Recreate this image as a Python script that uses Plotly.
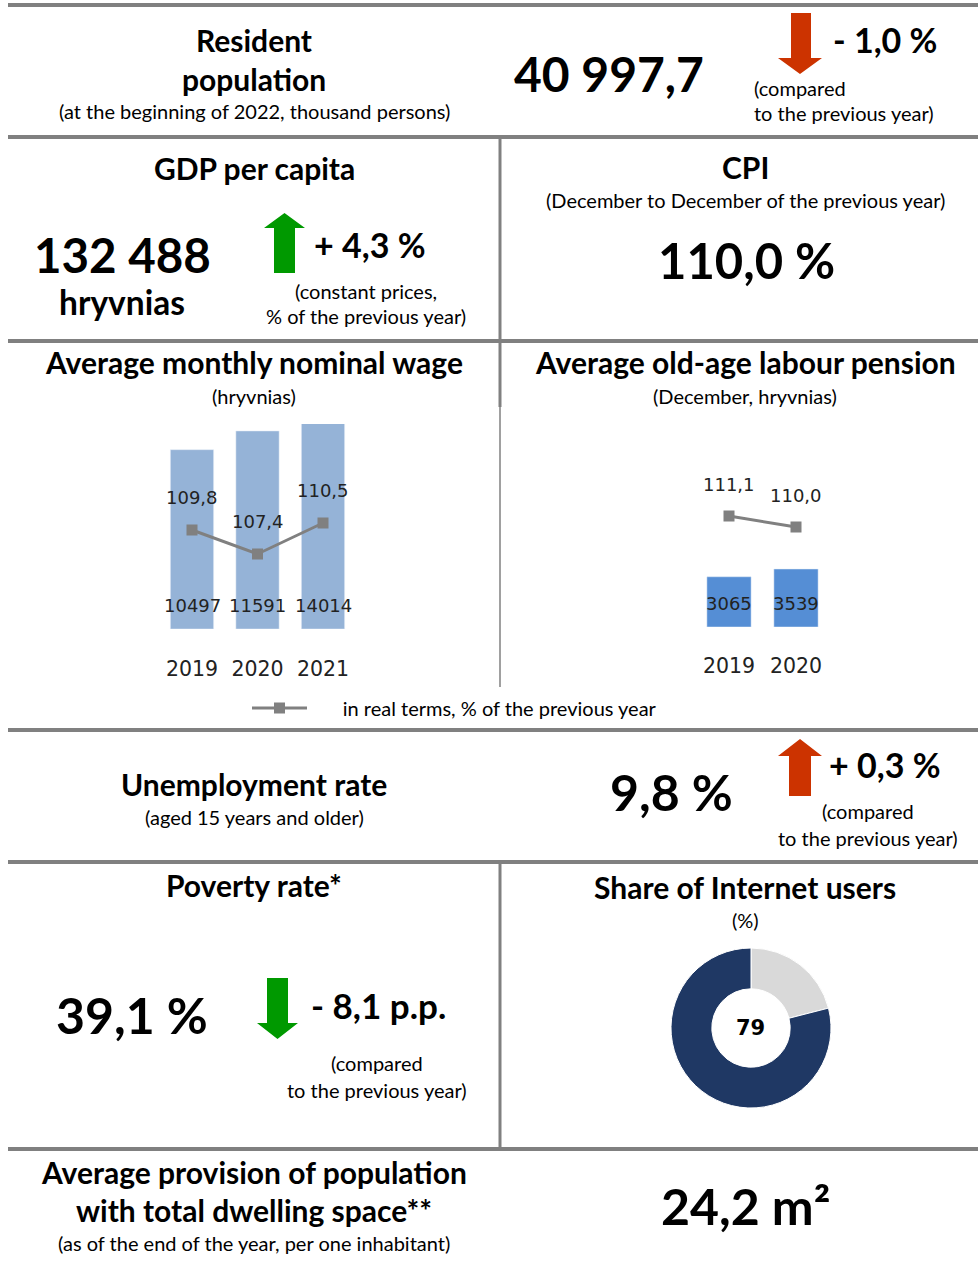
import plotly.graph_objects as go

W, H = 978, 1262

# ---------------- data ----------------
wage_years = ["2019", "2020", "2021"]
wage_values = [10497, 11591, 14014]
wage_real = [109.8, 107.4, 110.5]
wage_real_labels = ["109,8", "107,4", "110,5"]

pension_years = ["2019", "2020"]
pension_values = [3065, 3539]
pension_real = [111.1, 110.0]
pension_real_labels = ["111,1", "110,0"]

internet_labels = ["Non-users", "Users"]
internet_values = [21, 79]
internet_center = "79"

FONT = "Lato"
NUMFONT = "DejaVu Sans"
GRAY = "#808080"
HEAD = 30      # heading font size
SMALL = 20     # small note font size
BIG = 49       # big number size
MID = 34       # change figures size


def px(x):
    return x / W


def py(y):
    return 1 - y / H


fig = go.Figure()

# ---------------- wage chart ----------------
fig.add_trace(go.Bar(x=wage_years, y=wage_values, marker_color="#95B3D7",
                     xaxis="x", yaxis="y", showlegend=False, hoverinfo="skip"))
fig.add_trace(go.Scatter(x=wage_years, y=wage_real, mode="lines+markers",
                         line=dict(color=GRAY, width=3),
                         marker=dict(symbol="square", size=11, color=GRAY),
                         xaxis="x", yaxis="y2", showlegend=True,
                         name="\u00a0" * 6 + "in real terms, % of the previous year"))

# ---------------- pension chart ----------------
fig.add_trace(go.Bar(x=pension_years, y=pension_values, marker_color="#558ED5",
                     xaxis="x2", yaxis="y3", showlegend=False, hoverinfo="skip"))
fig.add_trace(go.Scatter(x=pension_years, y=pension_real, mode="lines+markers",
                         line=dict(color=GRAY, width=3),
                         marker=dict(symbol="square", size=11, color=GRAY),
                         xaxis="x2", yaxis="y4", showlegend=False))

# ---------------- internet donut ----------------
fig.add_trace(go.Pie(labels=internet_labels, values=internet_values, hole=0.49,
                     sort=False, direction="clockwise", rotation=0,
                     marker=dict(colors=["#D9D9D9", "#1F3864"], line=dict(color="white", width=1)),
                     textinfo="none", showlegend=False,
                     domain=dict(x=[px(671), px(831)], y=[py(1108), py(948)])))

axis_common = dict(showgrid=False, zeroline=False, showline=False, fixedrange=True)
fig.update_layout(
    width=W, height=H, margin=dict(l=0, r=0, t=0, b=0),
    paper_bgcolor="white", plot_bgcolor="rgba(0,0,0,0)",
    bargap=0.34,
    xaxis=dict(domain=[px(159.25), px(355.75)], type="category", ticks="",
               range=[-0.5, len(wage_years) - 0.5],
               tickfont=dict(family=NUMFONT, size=20.5, color="#222"), ticklabelstandoff=25,
               **axis_common),
    yaxis=dict(domain=[py(629), py(424)], range=[0, 12000], showticklabels=False, **axis_common),
    yaxis2=dict(domain=[py(629), py(424)], range=[99.9, 120.4], overlaying="y",
                showticklabels=False, **axis_common),
    xaxis2=dict(domain=[px(695.5), px(829.5)], type="category", ticks="",
                range=[-0.5, len(pension_years) - 0.5],
                tickfont=dict(family=NUMFONT, size=20.5, color="#222"), ticklabelstandoff=24,
                anchor="y3", **axis_common),
    yaxis3=dict(domain=[py(627), py(450)], range=[0, 10800], anchor="x2",
                showticklabels=False, **axis_common),
    yaxis4=dict(domain=[py(627), py(450)], range=[100.0, 117.7], anchor="x2",
                overlaying="y3", showticklabels=False, **axis_common),
    legend=dict(orientation="h", x=px(247), y=py(708), xanchor="left", yanchor="middle",
                font=dict(family=FONT, size=SMALL, color="black"), itemwidth=55,
                bgcolor="rgba(0,0,0,0)"),
)

# data labels for charts (category index positions)
LBL = dict(family=NUMFONT, size=18, color="#222")
for i, v in enumerate(wage_values):
    fig.add_annotation(x=i, y=0, xref="x", yref="y", yshift=24, text=str(v), showarrow=False,
                       xanchor="center", yanchor="middle", font=LBL)
for i, (v, lab) in enumerate(zip(wage_real, wage_real_labels)):
    fig.add_annotation(x=i, y=v, xref="x", yref="y2", yshift=33, text=lab, showarrow=False,
                       xanchor="center", yanchor="middle", font=LBL)
for i, v in enumerate(pension_values):
    fig.add_annotation(x=i, y=0, xref="x2", yref="y3", yshift=24, text=str(v), showarrow=False,
                       xanchor="center", yanchor="middle", font=LBL)
for i, (v, lab) in enumerate(zip(pension_real, pension_real_labels)):
    fig.add_annotation(x=i, y=v, xref="x2", yref="y4", yshift=32, text=lab, showarrow=False,
                       xanchor="center", yanchor="middle", font=LBL)


# ---------------- helpers ----------------
def txt(x, y, s, size, bold=False, anchor="center", family=FONT):
    if bold:
        s = "<b>" + s + "</b>"
    fig.add_annotation(x=px(x), y=py(y), xref="paper", yref="paper", text=s, showarrow=False,
                       xanchor=anchor, yanchor="middle",
                       font=dict(size=size, family=family, color="black"))


def hline(y, x0=8, x1=978, w=4):
    fig.add_shape(type="line", xref="paper", yref="paper", x0=px(x0), x1=px(x1),
                  y0=py(y), y1=py(y), line=dict(color=GRAY, width=w))


def vline(x, y0, y1, w=3):
    fig.add_shape(type="line", xref="paper", yref="paper", x0=px(x), x1=px(x),
                  y0=py(y0), y1=py(y1), line=dict(color=GRAY, width=w))


def arrow(sl, sr, hl, hr, ybase, yneck, ytip, color):
    pts = [(sl, ybase), (sr, ybase), (sr, yneck), (hr, yneck), ((hl + hr) / 2, ytip),
           (hl, yneck), (sl, yneck)]
    path = "M " + " L ".join(f"{px(a):.5f},{py(b):.5f}" for a, b in pts) + " Z"
    fig.add_shape(type="path", xref="paper", yref="paper", path=path,
                  fillcolor=color, line=dict(width=0))


# ---------------- frame lines ----------------
for yy in [5, 137, 341, 730, 862, 1149]:
    hline(yy)
vline(500, 137, 341)
vline(500, 341, 407)
vline(500, 407, 687, w=1.5)
vline(500, 862, 1149)

# ---------------- section 1 ----------------
txt(254, 40, "Resident", HEAD, bold=True)
txt(254, 79, "population", HEAD, bold=True)
txt(254, 111, "(at the beginning of 2022, thousand persons)", SMALL)
txt(609, 73, "40 997,7", 48, bold=True)
arrow(791, 811, 778, 822, 13, 58, 74, "#CC3300")
txt(831, 40, "- 1,0 %", MID, bold=True, anchor="left")
txt(752, 88, "(compared", SMALL, anchor="left")
txt(752, 113, "to the previous year)", SMALL, anchor="left")

# ---------------- section 2 ----------------
txt(254, 168, "GDP per capita", HEAD, bold=True)
txt(122, 254, "132 488", 47.5, bold=True)
txt(122, 302, "hryvnias", 33.5, bold=True)
arrow(274, 295, 264, 305, 273, 228, 213, "#009900")
txt(312, 244, "+ 4,3 %", MID, bold=True, anchor="left")
txt(366, 291, "(constant prices,", SMALL)
txt(366, 316, "% of the previous year)", SMALL)

txt(745, 167, "CPI", HEAD, bold=True)
txt(745, 200, "(December to December of the previous year)", SMALL)
txt(746, 260, "110,0 %", BIG, bold=True)

# ---------------- section 3 ----------------
txt(254, 362, "Average monthly nominal wage", HEAD, bold=True)
txt(254, 396, "(hryvnias)", SMALL)
txt(745, 362, "Average old-age labour pension", HEAD, bold=True)
txt(745, 396, "(December, hryvnias)", SMALL)

# ---------------- section 4 ----------------
txt(254, 784, "Unemployment rate", HEAD, bold=True)
txt(254, 817, "(aged 15 years and older)", SMALL)
txt(671, 792, "9,8 %", 50, bold=True)
arrow(789, 811, 778, 822, 796, 756, 739, "#CC3300")
txt(827, 764, "+ 0,3 %", MID, bold=True, anchor="left")
txt(868, 811, "(compared", SMALL)
txt(868, 838, "to the previous year)", SMALL)

# ---------------- section 5 ----------------
txt(254, 885, "Poverty rate*", HEAD, bold=True)
txt(132, 1015, "39,1 %", 50, bold=True)
arrow(267, 288, 257, 298, 978, 1023, 1039, "#009900")
txt(309, 1005, "- 8,1 p.p.", 35, bold=True, anchor="left")
txt(377, 1063, "(compared", SMALL)
txt(377, 1090, "to the previous year)", SMALL)

txt(745, 887, "Share of Internet users", HEAD, bold=True)
txt(745, 920, "(%)", SMALL)
txt(750, 1028, internet_center, 21, bold=True, family=NUMFONT)

# ---------------- section 6 ----------------
txt(254, 1172, "Average provision of population", HEAD, bold=True)
txt(254, 1210, "with total dwelling space**", HEAD, bold=True)
txt(254, 1243, "(as of the end of the year, per one inhabitant)", SMALL)
txt(745, 1206, "24,2 m²", 50, bold=True)

fig.write_html("out.html", config={"displayModeBar": False},
               post_script="document.body.style.margin='0';document.body.style.padding='0';"
                           "document.body.style.overflow='hidden';")
